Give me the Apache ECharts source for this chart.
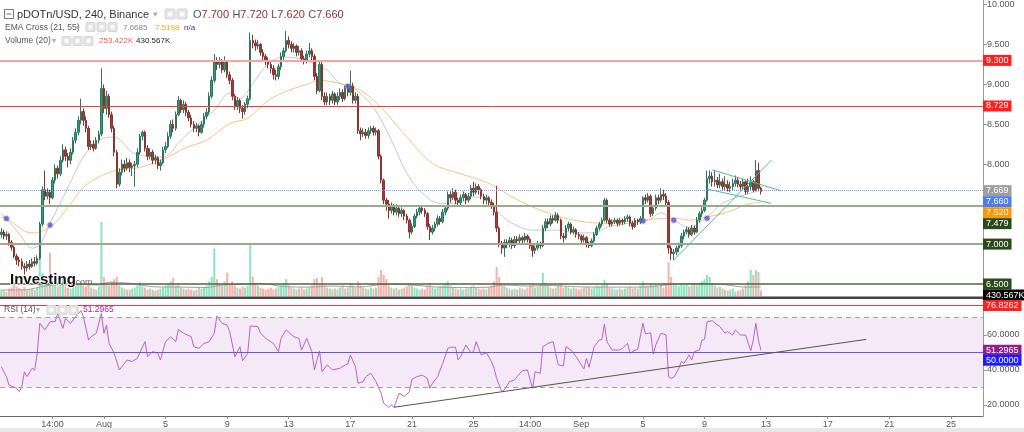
<!DOCTYPE html>
<html><head><meta charset="utf-8">
<script src="https://cdn.jsdelivr.net/npm/echarts@6/dist/echarts.min.js"></script>
<style>html,body{margin:0;padding:0;background:#fff;overflow:hidden}#c{width:1024px;height:432px}</style>
</head><body><div id="c"></div>
<script>
// ---- DATA ----
// candles: [open, close, low, high], one per 4h slot
const candles = [
[7.12,7.15,7.08,7.20],[7.15,7.10,7.06,7.18],[7.10,7.12,7.05,7.16],[7.12,7.02,6.98,7.14],[7.02,6.96,6.92,7.05],
[6.96,6.85,6.82,6.98],[6.85,6.80,6.74,6.88],[6.80,6.78,6.72,6.84],[6.78,6.72,6.68,6.82],[6.72,6.70,6.62,6.76],
[6.70,6.75,6.66,6.79],[6.75,6.72,6.68,6.80],[6.72,6.78,6.70,6.82],[6.78,6.76,6.72,6.84],[6.76,6.82,6.74,6.86],
[6.82,7.25,6.80,7.28],[7.25,7.68,7.22,7.72],[7.68,7.60,7.55,7.92],[7.60,7.65,7.56,7.70],[7.65,7.58,7.50,7.68],
[7.58,7.80,7.56,7.84],[7.80,7.95,7.76,8.00],[7.95,7.88,7.82,7.98],[7.88,8.05,7.85,8.10],[8.05,8.18,8.02,8.25],
[8.18,8.10,8.04,8.22],[8.10,8.05,7.96,8.14],[8.05,8.15,8.00,8.20],[8.15,8.30,8.12,8.34],[8.30,8.40,8.26,8.45],
[8.40,8.55,8.36,8.60],[8.55,8.66,8.50,8.82],[8.66,8.55,8.48,8.70],[8.55,8.45,8.40,8.60],[8.45,8.22,8.18,8.48],
[8.22,8.25,8.18,8.30],[8.25,8.20,8.16,8.30],[8.20,8.30,8.18,8.34],[8.30,8.38,8.26,8.42],[8.38,8.95,8.35,9.20],
[8.95,8.70,8.64,9.00],[8.70,8.85,8.62,8.92],[8.85,8.62,8.58,8.88],[8.62,8.45,8.40,8.66],[8.45,8.15,8.10,8.48],
[8.15,7.75,7.70,8.18],[7.75,7.90,7.72,7.95],[7.90,8.00,7.86,8.06],[8.00,7.95,7.90,8.05],[7.95,8.02,7.92,8.08],
[8.02,7.96,7.90,8.06],[7.96,7.98,7.85,8.02],[7.98,8.00,7.72,8.04],[8.00,8.15,7.96,8.20],[8.15,8.35,8.12,8.38],
[8.35,8.40,8.30,8.42],[8.40,8.20,8.16,8.42],[8.20,8.10,8.05,8.24],[8.10,8.15,8.06,8.20],[8.15,8.05,8.00,8.18],
[8.05,8.08,8.00,8.12],[8.08,7.98,7.94,8.10],[7.98,8.02,7.92,8.06],[8.02,8.18,8.00,8.22],[8.18,8.22,8.14,8.28],
[8.22,8.35,8.20,8.40],[8.35,8.50,8.32,8.55],[8.50,8.45,8.40,8.56],[8.45,8.62,8.42,8.66],[8.62,8.80,8.60,8.85],
[8.80,8.68,8.64,8.82],[8.68,8.75,8.64,8.80],[8.75,8.65,8.60,8.78],[8.65,8.58,8.54,8.68],[8.58,8.50,8.46,8.62],
[8.50,8.45,8.40,8.54],[8.45,8.48,8.40,8.52],[8.48,8.40,8.35,8.50],[8.40,8.50,8.38,8.54],[8.50,8.60,8.46,8.64],
[8.60,8.65,8.56,8.70],[8.65,8.85,8.62,8.90],[8.85,9.05,8.82,9.10],[9.05,9.28,9.02,9.38],[9.28,9.25,9.18,9.34],
[9.25,9.30,9.20,9.34],[9.30,9.18,9.14,9.32],[9.18,9.28,9.15,9.35],[9.28,9.12,9.08,9.30],[9.12,9.05,9.00,9.16],
[9.05,8.85,8.80,9.08],[8.85,8.72,8.68,8.88],[8.72,8.80,8.68,8.84],[8.80,8.70,8.64,8.82],[8.70,8.66,8.57,8.74],
[8.66,8.75,8.62,8.78],[8.75,8.82,8.70,8.86],[8.82,9.55,8.80,9.65],[9.55,9.52,9.45,9.62],[9.52,9.48,9.42,9.56],
[9.48,9.50,9.44,9.56],[9.50,9.40,9.36,9.52],[9.40,9.35,9.30,9.44],[9.35,9.30,9.24,9.38],[9.30,9.25,9.20,9.34],
[9.25,9.20,9.14,9.28],[9.20,9.12,9.06,9.24],[9.12,9.10,9.05,9.18],[9.10,9.22,9.06,9.26],[9.22,9.35,9.18,9.40],
[9.35,9.42,9.30,9.46],[9.42,9.55,9.40,9.67],[9.55,9.50,9.45,9.60],[9.50,9.45,9.40,9.54],[9.45,9.48,9.40,9.52],
[9.48,9.40,9.35,9.50],[9.40,9.42,9.36,9.48],[9.42,9.32,9.28,9.45],[9.32,9.30,9.25,9.36],[9.30,9.38,9.26,9.42],
[9.38,9.42,9.34,9.52],[9.42,9.35,9.30,9.45],[9.35,9.10,9.05,9.38],[9.10,8.92,8.88,9.14],[8.92,9.25,8.90,9.28],
[9.25,8.85,8.80,9.28],[8.85,8.78,8.74,8.90],[8.78,8.85,8.74,8.90],[8.85,8.80,8.74,8.88],[8.80,8.88,8.76,8.92],
[8.88,8.78,8.74,8.90],[8.78,8.85,8.74,8.90],[8.85,8.90,8.80,8.95],[8.90,8.82,8.78,8.94],[8.82,8.95,8.80,8.98],
[8.95,8.90,8.85,9.00],[8.90,8.98,8.86,9.17],[8.98,8.80,8.76,9.02],[8.80,8.85,8.76,8.90],[8.85,8.42,8.38,8.88],
[8.42,8.38,8.30,8.46],[8.38,8.40,8.34,8.45],[8.40,8.36,8.32,8.44],[8.36,8.42,8.32,8.46],[8.42,8.45,8.38,8.48],
[8.45,8.40,8.36,8.48],[8.40,8.42,8.36,8.46],[8.42,8.10,8.06,8.44],[8.10,7.80,7.76,8.12],[7.80,7.55,7.50,7.82],
[7.55,7.50,7.42,7.58],[7.50,7.42,7.32,7.55],[7.42,7.48,7.38,7.52],[7.48,7.40,7.36,7.50],[7.40,7.45,7.36,7.50],
[7.45,7.38,7.34,7.48],[7.38,7.42,7.34,7.46],[7.42,7.35,7.30,7.44],[7.35,7.30,7.26,7.38],[7.30,7.15,7.07,7.32],
[7.15,7.22,7.12,7.26],[7.22,7.35,7.20,7.38],[7.35,7.40,7.32,7.44],[7.40,7.45,7.36,7.48],[7.45,7.42,7.38,7.48],
[7.42,7.38,7.34,7.45],[7.38,7.22,7.18,7.40],[7.22,7.15,7.05,7.25],[7.15,7.20,7.12,7.24],[7.20,7.25,7.16,7.28],
[7.25,7.32,7.22,7.36],[7.32,7.28,7.24,7.35],[7.28,7.40,7.26,7.44],[7.40,7.45,7.36,7.48],[7.45,7.62,7.42,7.66],
[7.62,7.58,7.52,7.66],[7.58,7.65,7.55,7.70],[7.65,7.55,7.50,7.68],[7.55,7.52,7.48,7.58],[7.52,7.58,7.48,7.62],
[7.58,7.62,7.54,7.66],[7.62,7.55,7.50,7.64],[7.55,7.60,7.52,7.64],[7.60,7.70,7.56,7.74],[7.70,7.65,7.60,7.78],
[7.65,7.72,7.62,7.76],[7.72,7.68,7.62,7.75],[7.68,7.60,7.56,7.70],[7.60,7.55,7.50,7.63],[7.55,7.58,7.50,7.62],
[7.58,7.52,7.48,7.60],[7.52,7.48,7.44,7.56],[7.48,7.40,7.36,7.52],[7.40,7.20,7.15,7.73],[7.20,7.00,6.96,7.22],
[7.00,6.95,6.88,7.04],[6.95,7.02,6.84,7.06],[7.02,7.00,6.95,7.06],[7.00,7.05,6.96,7.09],[7.05,6.98,6.94,7.08],
[6.98,7.06,6.95,7.10],[7.06,7.04,7.00,7.10],[7.04,7.08,7.00,7.12],[7.08,7.05,7.00,7.10],[7.05,7.10,7.02,7.14],
[7.10,7.06,7.02,7.12],[7.06,6.98,6.94,7.08],[6.98,6.92,6.84,7.00],[6.92,6.95,6.88,6.98],[6.95,7.00,6.92,7.04],
[7.00,6.98,6.94,7.03],[6.98,7.20,6.96,7.24],[7.20,7.28,7.16,7.32],[7.28,7.25,7.20,7.32],[7.25,7.32,7.22,7.36],
[7.32,7.30,7.26,7.36],[7.30,7.36,7.28,7.40],[7.36,7.30,7.26,7.39],[7.30,7.10,7.06,7.32],[7.10,7.08,7.02,7.14],
[7.08,7.20,7.06,7.24],[7.20,7.25,7.16,7.28],[7.25,7.15,7.12,7.27],[7.15,7.18,7.12,7.22],[7.18,7.12,7.08,7.20],
[7.12,7.10,7.06,7.15],[7.10,7.05,7.00,7.12],[7.05,7.08,7.02,7.12],[7.08,7.00,6.96,7.10],[7.00,6.98,6.95,7.03],
[6.98,7.04,6.96,7.07],[7.04,7.12,7.02,7.15],[7.12,7.20,7.10,7.23],[7.20,7.25,7.17,7.28],[7.25,7.30,7.22,7.33],
[7.30,7.55,7.28,7.58],[7.55,7.30,7.26,7.57],[7.30,7.25,7.22,7.33],[7.25,7.28,7.22,7.31],[7.28,7.30,7.25,7.33],
[7.30,7.26,7.22,7.32],[7.26,7.30,7.23,7.33],[7.30,7.28,7.24,7.32],[7.28,7.32,7.25,7.35],[7.32,7.34,7.28,7.37],
[7.34,7.26,7.22,7.36],[7.26,7.22,7.18,7.29],[7.22,7.30,7.20,7.33],[7.30,7.28,7.24,7.32],[7.28,7.32,7.25,7.35],
[7.32,7.58,7.30,7.60],[7.58,7.55,7.50,7.62],[7.55,7.60,7.52,7.64],[7.60,7.38,7.34,7.62],[7.38,7.45,7.35,7.48],
[7.45,7.58,7.42,7.62],[7.58,7.55,7.50,7.62],[7.55,7.62,7.52,7.70],[7.62,7.60,7.55,7.68],[7.60,7.52,7.48,7.64],
[7.52,6.95,6.88,7.55],[6.95,6.88,6.80,6.98],[6.88,6.90,6.80,6.94],[6.90,6.95,6.86,6.98],[6.95,6.98,6.90,7.02],
[6.98,7.10,6.95,7.14],[7.10,7.15,7.06,7.18],[7.15,7.18,7.12,7.22],[7.18,7.12,7.08,7.21],[7.12,7.20,7.10,7.24],
[7.20,7.15,7.12,7.23],[7.15,7.30,7.14,7.34],[7.30,7.38,7.27,7.41],[7.38,7.42,7.34,7.46],[7.42,7.55,7.40,7.58],
[7.55,7.82,7.53,7.92],[7.82,7.85,7.76,7.92],[7.85,7.78,7.72,7.90],[7.78,7.80,7.72,7.92],[7.80,7.74,7.70,7.84],
[7.74,7.78,7.70,7.88],[7.78,7.72,7.68,7.82],[7.72,7.75,7.68,7.85],[7.75,7.70,7.66,7.80],[7.70,7.72,7.65,7.78],
[7.72,7.76,7.68,7.82],[7.76,7.80,7.72,7.86],[7.80,7.75,7.71,7.84],[7.75,7.72,7.68,7.79],[7.72,7.78,7.69,7.82],
[7.78,7.66,7.62,7.80],[7.66,7.72,7.63,7.82],[7.72,7.78,7.68,7.85],[7.78,7.68,7.65,7.80],[7.68,7.92,7.66,8.05],
[7.92,7.70,7.68,8.02],[7.70,7.66,7.62,7.72]
];
// volume per candle, in K
const volumes = [
300,250,200,350,400,520,450,380,300,420,260,300,340,280,380,
1900,1100,850,600,2050,
700,800,450,600,900,500,400,350,450,500,
550,700,500,450,600,400,350,300,450,3500,
900,600,500,700,800,900,500,400,350,300,
300,350,400,500,650,450,400,300,350,300,
250,300,350,400,500,550,700,850,500,600,
400,350,300,350,300,250,300,400,350,400,
500,700,900,2250,800,600,500,700,1100,600,
700,500,400,350,450,400,500,2500,900,600,
500,400,350,300,350,400,300,350,450,500,
600,800,500,400,350,300,350,400,300,350,
400,500,800,850,600,900,500,400,350,300,
350,300,400,500,350,400,600,500,400,700,
500,400,350,300,400,350,400,900,1230,1000,
800,500,400,350,400,300,350,400,450,600,
500,400,350,300,350,300,500,600,400,350,
400,450,500,600,700,500,400,350,300,350,
300,350,400,450,500,400,350,300,350,300,
400,500,700,1370,900,600,500,400,350,300,
350,300,400,350,300,400,500,600,400,450,
500,1090,600,500,400,350,400,500,600,400,
450,400,350,400,350,300,350,400,450,400,
350,400,500,450,500,760,600,400,350,300,
300,350,300,350,400,450,350,400,350,500,
700,500,450,600,500,550,450,500,400,600,
1600,900,600,500,450,550,500,600,450,500,
620,500,600,700,800,1000,900,600,500,400,
450,350,300,250,300,350,200,250,300,350,
500,700,1230,1000,1230,1130,253
];
const volumeMA = [[0,280],[10,300],[16,450],[20,520],[30,540],[38,520],[42,650],[50,600],[60,430],[70,420],[80,400],[86,520],[95,560],[100,600],[110,450],[120,420],[128,470],[140,430],[150,560],[160,520],[170,420],[180,400],[190,420],[196,520],[205,470],[213,500],[222,450],[230,420],[240,420],[250,420],[262,560],[270,580],[280,560],[290,420],[296,430]];
const ema21 = [[0,7.38],[2,7.32],[7,7.13],[12,6.95],[15,6.99],[19,7.26],[26,7.71],[32,8.09],[38,8.30],[44,8.34],[51,8.15],[55,8.11],[63,8.09],[70,8.30],[77,8.51],[83,8.675],[89,8.89],[93,8.825],[98,9.01],[104,9.26],[110,9.34],[116,9.325],[123,9.24],[127,9.175],[132,9.01],[137,8.96],[145,8.71],[152,8.30],[158,7.89],[164,7.64],[171,7.51],[178,7.51],[184,7.59],[190,7.55],[194,7.39],[199,7.26],[207,7.175],[213,7.175],[218,7.175],[223,7.14],[231,7.14],[236,7.21],[244,7.26],[252,7.30],[257,7.39],[262,7.30],[268,7.21],[275,7.34],[281,7.51],[288,7.60],[292,7.64],[296,7.6685]];
const ema55 = [[0,7.34],[2,7.32],[12,7.14],[19,7.21],[26,7.46],[32,7.71],[38,7.84],[45,7.925],[54,7.96],[65,8.09],[72,8.21],[80,8.30],[89,8.51],[96,8.575],[104,8.80],[112,8.925],[120,9.01],[124,9.05],[132,9.01],[140,8.925],[148,8.71],[158,8.34],[168,8.01],[178,7.89],[190,7.76],[199,7.59],[210,7.425],[223,7.30],[236,7.26],[249,7.30],[262,7.325],[268,7.30],[275,7.34],[283,7.40],[292,7.51],[296,7.5198]];
const emaCrosses = [[2,7.32],[19,7.24],[135,8.975],[250,7.29],[262,7.30],[275,7.325]];
const rsi = [[0,41.9],[2,36.2],[3,31.4],[6,29.5],[7,27.6],[8,30.5],[9,39],[10,36.2],[12,41],[13,40],[14,49.5],[15,66.7],[17,62.9],[19,67.6],[21,67.6],[22,72.4],[24,63.8],[25,69.5],[27,66.7],[29,70.5],[31,73.9],[32,70.5],[34,57.1],[35,59],[37,61],[39,72.4],[40,61],[41,65.7],[42,55.2],[44,49.5],[46,40],[49,45.7],[51,44.8],[53,46.7],[56,56.2],[57,47.6],[59,50.5],[61,49.5],[62,45.7],[64,56.2],[66,59],[68,56.2],[69,63.2],[71,61],[74,59],[75,53.3],[77,52.4],[79,55.2],[81,56.2],[83,61],[84,70.9],[86,66.7],[88,65.7],[89,61.9],[91,47.6],[93,53.3],[94,45.3],[96,49.5],[97,65.1],[100,64.8],[101,61],[103,58.1],[105,56.2],[106,55.2],[108,50.5],[109,58.1],[111,62.9],[114,59],[116,58.1],[117,51.4],[119,58.1],[121,50.5],[122,40],[123,45.7],[124,50.9],[125,39],[127,42.9],[129,40],[132,41],[134,42.9],[135,43.4],[136,48.6],[138,41.9],[139,32.4],[141,33.3],[142,36.2],[144,38.1],[146,33.3],[148,26.7],[149,21],[151,18.7],[152,20],[153,18.7],[155,26.7],[157,24.8],[159,27.6],[160,34.7],[162,36.2],[164,37.1],[166,35.2],[167,29.5],[168,32.4],[170,36.2],[172,43.8],[174,52.4],[175,53],[177,53],[178,45.7],[179,47.6],[181,54.3],[183,49.9],[184,50.5],[185,56.2],[187,48.6],[189,49.9],[191,44.8],[192,41],[193,35.2],[195,27.6],[196,28.6],[198,33.3],[200,34.3],[201,36.2],[203,39.6],[205,40],[207,29.5],[208,39],[210,38.1],[211,53.3],[213,55.2],[215,56.2],[217,42.9],[219,42.3],[220,53.3],[222,51.4],[224,47.6],[227,40.6],[228,46.7],[229,41.5],[231,53.3],[233,57.1],[234,57.5],[235,66.3],[236,56.2],[238,51.4],[241,51.4],[242,52.4],[244,55.2],[245,49.5],[247,51.4],[248,51.8],[250,66.7],[251,60.6],[253,61.3],[254,49.1],[255,54.3],[257,61],[259,60],[260,36.2],[261,35.2],[262,35.8],[264,41],[265,44.8],[266,43.8],[268,48.6],[269,45.7],[270,50.5],[272,51.4],[273,57.1],[274,57.5],[275,67.6],[277,68.2],[279,65.7],[280,64.8],[282,61],[283,61.9],[285,60],[286,62.9],[288,60],[290,60],[292,51],[293,57.1],[294,66.7],[295,57.1],[296,51.2965]];
const rsiTrend = [[153,18.7],[337,57.5]];
const risingLine = [[262,6.80],[300,8.05]];
const flagTop = [[277,7.93],[304,7.666]];
const flagBottom = [[275,7.69],[300,7.51]];
const priceLevels = [9.3, 8.729, 7.669, 7.479, 7.0, 6.5];
const rsiLevels = [76.8262, 70, 50, 30];
const priceTicks = [8.0, 8.5, 9.0, 9.5, 10.0];
const rsiTicks = [20, 40, 60];
const xLabels = {20:'14:00',40:'Aug',64:'5',88:'9',112:'13',136:'17',160:'21',184:'25',206:'14:00',226:'Sep',250:'5',274:'9',298:'13',322:'17',346:'21',370:'25'};
const slotCount = 383;
const lastPrice = 7.660, emaFastLast = 7.6685, emaSlowLast = 7.5198, volMALast = 430.567, rsiLast = 51.2965;

// ---- CHART ----
const FONT = '"Liberation Sans", Arial, sans-serif';
const categories = Array.from({length: slotCount}, (_, i) => String(i));
const chart = echarts.init(document.getElementById('c'), null, {renderer: 'canvas'});
const upC = '#1fa384', dnC = '#a53a35';
const isLabel = (i) => xLabels[i] !== undefined;

const option = {
  animation: false,
  backgroundColor: '#ffffff',
  grid: [
    {left: 0, right: 41, top: 0, height: 297},
    {left: 0, right: 41, top: 148, height: 148},
    {left: 0, right: 41, top: 299, height: 117}
  ],
  xAxis: [
    {type: 'category', gridIndex: 0, data: categories, show: false},
    {type: 'category', gridIndex: 1, data: categories, show: false},
    {type: 'category', gridIndex: 2, data: categories,
      axisLine: {lineStyle: {color: '#666', width: 1}},
      axisTick: {show: true, alignWithLabel: true, interval: (i) => isLabel(i), length: 3, lineStyle: {color: '#888'}},
      axisLabel: {interval: (i) => isLabel(i), formatter: (v) => xLabels[Number(v)] || '', color: '#555', fontSize: 9, fontFamily: FONT, margin: 4, hideOverlap: false},
      splitLine: {show: false}}
  ],
  yAxis: [
    {type: 'value', gridIndex: 0, position: 'right', min: 6.3375, max: 10.05, scale: true,
      axisLine: {show: true, lineStyle: {color: '#999'}},
      axisTick: {show: true, customValues: priceTicks, length: 4, lineStyle: {color: '#999'}},
      axisLabel: {customValues: priceTicks, formatter: (v) => v.toFixed(3), color: '#555', fontSize: 9, fontFamily: FONT, margin: 4},
      splitLine: {show: false}},
    {type: 'value', gridIndex: 1, min: 0, max: 7000, show: false, splitLine: {show: false}},
    {type: 'value', gridIndex: 2, position: 'right', min: 13.71, max: 80.57,
      axisLine: {show: true, lineStyle: {color: '#999'}},
      axisTick: {show: true, customValues: rsiTicks, length: 4, lineStyle: {color: '#999'}},
      axisLabel: {customValues: rsiTicks, formatter: (v) => v.toFixed(4), color: '#555', fontSize: 9, fontFamily: FONT, margin: 4},
      splitLine: {show: false}}
  ],
  series: [
    {type: 'bar', xAxisIndex: 1, yAxisIndex: 1, barWidth: 2, z: 1, silent: true,
      data: volumes.map((v, i) => ({value: v, itemStyle: {color: candles[i][1] >= candles[i][0] ? '#8fe2c0' : '#f8b0ab'}}))},
    {type: 'line', xAxisIndex: 1, yAxisIndex: 1, data: volumeMA, smooth: 0.3, showSymbol: false, z: 2,
      lineStyle: {color: '#a0a0a0', width: 1}},
    {type: 'candlestick', xAxisIndex: 0, yAxisIndex: 0, data: candles, barWidth: 2, z: 4,
      itemStyle: {color: upC, color0: dnC, borderColor: '#34735b', borderColor0: '#8a342f', borderWidth: 1},
      markLine: {silent: true, symbol: ['none', 'none'], label: {show: false}, animation: false,
        data: [
          {yAxis: priceLevels[0], lineStyle: {color: '#f5a3a3', width: 2, type: 'solid'}},
          {yAxis: priceLevels[1], lineStyle: {color: '#e8403c', width: 1, type: 'solid'}},
          {yAxis: priceLevels[2], lineStyle: {color: '#7d9ef3', width: 1, type: 'dotted'}},
          {yAxis: priceLevels[3], lineStyle: {color: '#9aaa8c', width: 2, type: 'solid'}},
          {yAxis: priceLevels[4], lineStyle: {color: '#9aaa8c', width: 2, type: 'solid'}},
          {yAxis: priceLevels[5], lineStyle: {color: '#4f6640', width: 1.5, type: 'solid'}}
        ]}},
    {type: 'line', xAxisIndex: 0, yAxisIndex: 0, data: ema21, smooth: 0.35, showSymbol: false, z: 3,
      lineStyle: {color: '#c8c8c8', width: 1}},
    {type: 'line', xAxisIndex: 0, yAxisIndex: 0, data: ema55, smooth: 0.35, showSymbol: false, z: 3,
      lineStyle: {color: '#f8c47c', width: 1}},
    {type: 'scatter', xAxisIndex: 0, yAxisIndex: 0, data: emaCrosses, symbolSize: 5, z: 6,
      itemStyle: {color: '#5550c4', borderColor: 'rgba(120,110,220,0.35)', borderWidth: 2}},
    {type: 'line', xAxisIndex: 0, yAxisIndex: 0, data: risingLine, showSymbol: false, z: 5, lineStyle: {color: '#55baa0', width: 1}},
    {type: 'line', xAxisIndex: 0, yAxisIndex: 0, data: flagTop, showSymbol: false, z: 5, lineStyle: {color: '#55baa0', width: 1}},
    {type: 'line', xAxisIndex: 0, yAxisIndex: 0, data: flagBottom, showSymbol: false, z: 5, lineStyle: {color: '#55baa0', width: 1}},
    {type: 'line', xAxisIndex: 2, yAxisIndex: 2, data: rsi, showSymbol: false, z: 4,
      lineStyle: {color: '#b463cc', width: 1},
      markArea: {silent: true, itemStyle: {color: 'rgba(156,39,176,0.10)'}, data: [[{yAxis: rsiLevels[3]}, {yAxis: rsiLevels[1]}]]},
      markLine: {silent: true, symbol: ['none', 'none'], label: {show: false},
        data: [
          {yAxis: rsiLevels[0], lineStyle: {color: '#f03c3c', width: 1, type: 'solid'}},
          {yAxis: rsiLevels[1], lineStyle: {color: '#a0a0a0', width: 1, type: [5, 4]}},
          {yAxis: rsiLevels[2], lineStyle: {color: '#6258d6', width: 1, type: 'solid'}},
          {yAxis: rsiLevels[3], lineStyle: {color: '#a0a0a0', width: 1, type: [5, 4]}}
        ]}},
    {type: 'line', xAxisIndex: 2, yAxisIndex: 2, data: rsiTrend, showSymbol: false, z: 5, lineStyle: {color: '#4d5a46', width: 1}}
  ]
};
chart.setOption(option);

// ---- graphics: headers, tags, watermark ----
const g = [];
function txt(x, y, text, fill, size, weight) {
  g.push({type: 'text', x: x, y: y, z: 100, silent: true,
    style: {text: text, fill: fill, font: (weight || 'normal') + ' ' + size + 'px ' + FONT, verticalAlign: 'middle', align: 'left'}});
}
function iconBox(x, y, s) {
  g.push({type: 'rect', z: 100, silent: true, shape: {x: x, y: y - s / 2, width: s, height: s, r: 1}, style: {fill: '#e4e4e4', stroke: '#d6d6d6'}});
  g.push({type: 'circle', z: 101, silent: true, shape: {cx: x + s / 2, cy: y, r: s / 4}, style: {fill: '#fafafa'}});
}
// separator & bottom strip
g.push({type: 'rect', z: 90, silent: true, shape: {x: 0, y: 296.5, width: 984, height: 2.5}, style: {fill: '#454545'}});
g.push({type: 'rect', z: 90, silent: true, shape: {x: 0, y: 428, width: 1024, height: 4}, style: {fill: '#e8e8e8'}});
// line 1
g.push({type: 'rect', z: 100, silent: true, shape: {x: 4.5, y: 9.5, width: 9, height: 9}, style: {fill: 'none', stroke: '#777', lineWidth: 1}});
g.push({type: 'line', z: 100, silent: true, shape: {x1: 6.5, y1: 14, x2: 11.5, y2: 14}, style: {stroke: '#777', lineWidth: 1}});
txt(17, 14.5, 'pDOTn/USD, 240, Binance', '#333', 11);
txt(153, 14.5, '\u25BE', '#aaa', 9);
iconBox(165, 14, 10); iconBox(177, 14, 10);
g.push({type: 'text', x: 193, y: 14.5, z: 100, silent: true, style: {
  text: '{k|O}{v|7.700} {k|H}{v|7.720} {k|L}{v|7.620} {k|C}{v|7.660}', verticalAlign: 'middle', align: 'left',
  rich: {k: {fill: '#555', font: '11px ' + FONT}, v: {fill: '#8b3030', font: '11px ' + FONT}}}});
// line 2
txt(5, 27.5, 'EMA Cross (21, 55)', '#555', 8.5);
txt(76, 27.5, '\u25BE', '#aaa', 8);
iconBox(86, 27, 9); iconBox(97, 27, 9); iconBox(108, 27, 9);
txt(123, 27.5, emaFastLast.toFixed(4), '#8a8a8a', 8);
txt(155, 27.5, emaSlowLast.toFixed(4), '#f5a11c', 8);
txt(184, 27.5, 'n/a', '#3333a0', 8);
// line 3
txt(5, 41, 'Volume (20)', '#555', 8.5);
txt(52, 41, '\u25BE', '#aaa', 8);
iconBox(62, 41, 9); iconBox(73, 41, 9); iconBox(84, 41, 9);
txt(99, 41, '253.422K', '#f05c5c', 8);
txt(136, 41, volMALast.toFixed(3) + 'K', '#222', 8);
// RSI header
txt(4, 310, 'RSI (14)', '#555', 8.5);
txt(36, 310, '\u25BE', '#aaa', 8);
iconBox(47, 310, 9); iconBox(58, 310, 9); iconBox(69, 310, 9);
txt(83, 310, rsiLast.toFixed(4), '#9c27b0', 8.5);
// watermark
g.push({type: 'text', x: 10, y: 280, z: 100, silent: true, style: {text: 'Investing', fill: '#111', font: 'bold 15px ' + FONT, verticalAlign: 'middle', align: 'left', stroke: '#fff', lineWidth: 1.5}});
g.push({type: 'text', x: 73, y: 283, z: 100, silent: true, style: {text: '.com', fill: '#666', font: '9px ' + FONT, verticalAlign: 'middle', align: 'left'}});

// right-hand value tags, stacked to avoid overlap
function tags(list, minGap) {
  list.sort((a, b) => a.y - b.y);
  let prev = -1e9;
  list.forEach(t => {
    let y = Math.max(t.y, prev + minGap);
    prev = y;
    g.push({type: 'text', x: 983, y: y, z: 120, silent: true,
      style: {text: t.text, fill: '#fff', font: '9px ' + FONT, backgroundColor: t.bg, padding: [1, 3, 1, 3], verticalAlign: 'middle', align: 'left'}});
  });
}
const py = (v) => chart.convertToPixel({yAxisIndex: 0}, v);
const vy = (v) => chart.convertToPixel({yAxisIndex: 1}, v);
const ry = (v) => chart.convertToPixel({yAxisIndex: 2}, v);
tags([
  {y: py(priceLevels[0]), text: priceLevels[0].toFixed(3), bg: '#ff1f1f'},
  {y: py(priceLevels[1]), text: priceLevels[1].toFixed(3), bg: '#ff1f1f'},
  {y: py(priceLevels[2]), text: priceLevels[2].toFixed(3), bg: '#9e9e9e'},
  {y: py(lastPrice) + 0.01, text: lastPrice.toFixed(3), bg: '#4a7cf4'},
  {y: py(emaSlowLast), text: '7.520', bg: '#ff9800'},
  {y: py(priceLevels[3]), text: priceLevels[3].toFixed(3), bg: '#2b4a1c'},
  {y: py(priceLevels[4]), text: priceLevels[4].toFixed(3), bg: '#2b4a1c'},
  {y: py(priceLevels[5]), text: priceLevels[5].toFixed(3), bg: '#2b4a1c'},
  {y: vy(volMALast), text: volMALast.toFixed(3) + 'K', bg: '#000'}
], 11);
tags([
  {y: ry(rsiLevels[0]), text: rsiLevels[0].toFixed(4), bg: '#ff1f1f'},
  {y: ry(rsiLast), text: rsiLast.toFixed(4), bg: '#8e1f8e'},
  {y: ry(rsiLevels[2]) + 0.01, text: rsiLevels[2].toFixed(4), bg: '#1c1cff'}
], 10);

chart.setOption({graphic: g});
</script>
</body></html>
